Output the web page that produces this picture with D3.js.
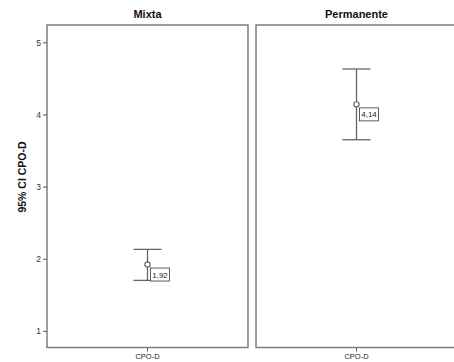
<!DOCTYPE html>
<html>
<head>
<meta charset="utf-8">
<script src="https://cdn.jsdelivr.net/npm/d3@7"></script>
<style>
  body { margin: 0; background: #fff; }
  text { font-family: Arial, "Liberation Sans", sans-serif; }
</style>
</head>
<body>
<div id="chart"></div>
<script>
// data
const groups = ["Mixta", "Permanente"];
const variable = "CPO-D";
const means = [1.92, 4.14];
const lower = [1.70, 3.65];
const upper = [2.13, 4.63];
const yTicks = [1, 2, 3, 4, 5];
const yLabel = "95% CI CPO-D";

const width = 454, height = 362;
const plotTop = 25, plotBottom = 347.5, plotLeft = 47;

const svg = d3.select("#chart").append("svg")
    .attr("width", width)
    .attr("height", height);

// comma decimal like the original output
const es = d3.formatLocale({ decimal: ",", thousands: ".", grouping: [3], currency: ["", "€"] });
const fmt = es.format(".2f");

// one panel per group
const xPanel = d3.scaleBand()
    .domain(groups)
    .range([plotLeft, 457])
    .paddingInner(0.0383);

const y = d3.scaleLinear()
    .domain([0.77, 5.24])
    .range([plotBottom, plotTop]);

const rows = groups.map((g, i) => ({ group: g, mean: means[i], lo: lower[i], hi: upper[i] }));

const panel = svg.selectAll(".panel")
    .data(rows)
    .join("g")
    .attr("class", "panel")
    .attr("transform", d => "translate(" + xPanel(d.group) + ",0)");

const bw = xPanel.bandwidth();
const xIn = d3.scaleBand().domain([variable]).range([0, bw]);

// frame
panel.append("rect")
    .attr("x", 0)
    .attr("y", plotTop)
    .attr("width", bw)
    .attr("height", plotBottom - plotTop)
    .attr("fill", "none")
    .attr("stroke", "#7f7f7f")
    .attr("stroke-width", 1.5);

// panel titles
panel.append("text")
    .attr("x", bw / 2)
    .attr("y", 18)
    .attr("text-anchor", "middle")
    .attr("font-size", "11px")
    .attr("font-weight", "bold")
    .attr("fill", "#111")
    .text(d => d.group);

// bottom category axis
panel.each(function() {
    const ax = d3.select(this).append("g")
        .attr("transform", "translate(0," + plotBottom + ")")
        .call(d3.axisBottom(xIn).tickSize(4).tickPadding(2));
    ax.select(".domain").remove();
    ax.selectAll("line").attr("stroke", "#555");
    ax.selectAll("text").attr("font-size", "7.5px").attr("fill", "#222").attr("font-family", "Arial, sans-serif");
});

// error bars
const cx = xIn(variable) + xIn.bandwidth() / 2;
const cap = 14;

panel.append("line")
    .attr("x1", cx).attr("x2", cx)
    .attr("y1", d => y(d.hi)).attr("y2", d => y(d.lo))
    .attr("stroke", "#666").attr("stroke-width", 1.3);
panel.append("line")
    .attr("x1", cx - cap).attr("x2", cx + cap)
    .attr("y1", d => y(d.hi)).attr("y2", d => y(d.hi))
    .attr("stroke", "#666").attr("stroke-width", 1.3);
panel.append("line")
    .attr("x1", cx - cap).attr("x2", cx + cap)
    .attr("y1", d => y(d.lo)).attr("y2", d => y(d.lo))
    .attr("stroke", "#666").attr("stroke-width", 1.3);
panel.append("circle")
    .attr("cx", cx)
    .attr("cy", d => y(d.mean))
    .attr("r", 2.6)
    .attr("fill", "#fff")
    .attr("stroke", "#666")
    .attr("stroke-width", 1.2);

// mean labels
panel.append("rect")
    .attr("x", cx + 3)
    .attr("y", d => y(d.mean) + 3.5)
    .attr("width", 19)
    .attr("height", 13)
    .attr("fill", "#fff")
    .attr("stroke", "#333")
    .attr("stroke-width", 0.8);
panel.append("text")
    .attr("x", cx + 12.5)
    .attr("y", d => y(d.mean) + 13)
    .attr("text-anchor", "middle")
    .attr("font-size", "8px")
    .attr("fill", "#222")
    .text(d => fmt(d.mean));

// y axis on the left panel
const yAxis = svg.append("g")
    .attr("transform", "translate(" + plotLeft + ",0)")
    .call(d3.axisLeft(y).tickValues(yTicks).tickFormat(d3.format("d")).tickSize(4).tickPadding(2));
yAxis.select(".domain").remove();
yAxis.selectAll("line").attr("stroke", "#555");
yAxis.selectAll("text").attr("font-size", "8.5px").attr("fill", "#333").attr("font-family", "Arial, sans-serif");

svg.append("text")
    .attr("transform", "translate(22,177) rotate(-90)")
    .attr("text-anchor", "middle")
    .attr("dy", "0.35em")
    .attr("font-size", "10.5px")
    .attr("font-weight", "bold")
    .attr("fill", "#111")
    .text(yLabel);
</script>
</body>
</html>
